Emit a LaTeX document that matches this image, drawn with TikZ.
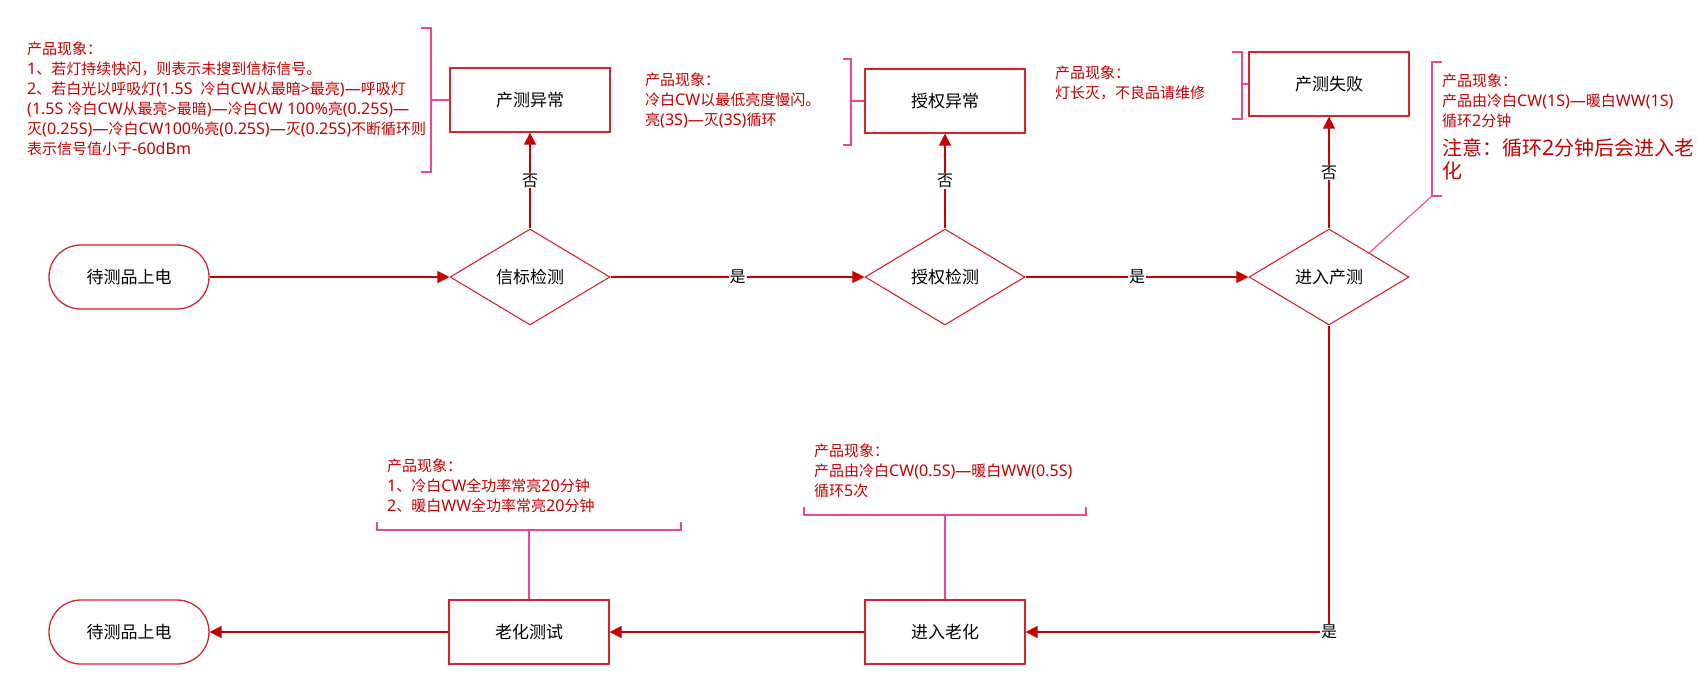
\documentclass[tikz,border=0pt]{standalone}
\usepackage{fontspec}
\setmainfont{Noto Sans CJK SC}
\newfontfamily\latfont{Noto Sans}[Scale=1.07]
\newcommand\la[1]{{\latfont #1}}
\newcommand\dd{{\latfont —}}
\usetikzlibrary{shapes.geometric,arrows.meta}
\definecolor{boxred}{RGB}{214,36,44}
\definecolor{arrred}{RGB}{200,0,0}
\definecolor{notered}{RGB}{196,0,0}
\definecolor{brpink}{RGB}{232,72,150}
\tikzset{
  proc/.style={draw=boxred, line width=1.3pt, minimum width=160pt, minimum height=64pt, inner sep=0pt, text=black, font=\fontsize{17}{20}\selectfont},
  term/.style={proc, rounded corners=31.9pt},
  dec/.style={diamond, draw=boxred, line width=1.1pt, aspect=1.667, minimum width=160pt, minimum height=96pt, inner sep=0pt, text=black, font=\fontsize{17}{20}\selectfont},
  arr/.style={draw=arrred, line width=1.2pt, -{Triangle[length=12pt,width=12pt]}},
  lab/.style={fill=white, inner sep=1pt, text=black, font=\fontsize{16}{16}\selectfont},
  note/.style={text=notered, align=left, inner sep=0pt, anchor=north west, font=\fontsize{15}{20}\selectfont},
  br/.style={draw=brpink, line width=1.1pt}
}
\begin{document}
\begin{tikzpicture}[x=1pt,y=-1pt]
\useasboundingbox (0,0) rectangle (1704,686);
% main nodes
\node[term] (t1) at (129,277) {待测品上电};
\node[dec] (d1) at (530,277) {信标检测};
\node[dec] (d2) at (945,277) {授权检测};
\node[dec] (d3) at (1329,277) {进入产测};
\node[proc] (b1) at (530,100) {产测异常};
\node[proc] (b2) at (945,101) {授权异常};
\node[proc] (b3) at (1329,84) {产测失败};
\node[proc] (b4) at (945,632) {进入老化};
\node[proc] (b5) at (529,632) {老化测试};
\node[term] (t2) at (129,632) {待测品上电};
% connectors
\draw[arr] (t1) -- (d1);
\draw[arr] (d1) -- node[lab]{是} (d2);
\draw[arr] (d2) -- node[lab]{是} (d3);
\draw[arr] (d1) -- node[lab]{否} (b1);
\draw[arr] (d2) -- node[lab]{否} (b2);
\draw[arr] (d3) -- node[lab]{否} (b3);
\draw[arr] (d3) |- node[lab,pos=0.5]{是} (b4);
\draw[arr] (b4) -- (b5);
\draw[arr] (b5) -- (t2);
% notes
\node[note] (n1) at (27,42) {产品现象：\\\la{1}、若灯持续快闪，则表示未搜到信标信号。\\\la{2}、若白光以呼吸灯\la{(1.5S\enspace}冷白\la{CW}从最暗\la{>}最亮\la{)}\dd 呼吸灯\\\la{(1.5S }冷白\la{CW}从最亮\la{>}最暗\la{)}\dd 冷白\la{CW 100\%}亮\la{(0.25S)}\dd\\灭\la{(0.25S)}\dd 冷白\la{CW100\%}亮\la{(0.25S)}\dd 灭\la{(0.25S)}不断循环则\\表示信号值小于\la{-60dBm}};
\node[note] (n2) at (645,73) {产品现象：\\冷白\la{CW}以最低亮度慢闪。\\亮\la{(3S)}\dd 灭\la{(3S)}循环};
\node[note] (n3) at (1055,66) {产品现象：\\灯长灭，不良品请维修};
\node[note] (n4) at (1442,74) {产品现象：\\产品由冷白\la{CW(1S)}\dd 暖白\la{WW(1S)}\\循环\la{2}分钟};
\node[note, font=\fontsize{20}{23}\selectfont] (n4b) at (1442,138) {注意：循环\la{2}分钟后会进入老\\化};
\node[note] (n5) at (387,459) {产品现象：\\\la{1}、冷白\la{CW}全功率常亮\la{20}分钟\\\la{2}、暖白\la{WW}全功率常亮\la{20}分钟};
\node[note] (n6) at (814,444) {产品现象：\\产品由冷白\la{CW(0.5S)}\dd 暖白\la{WW(0.5S)}\\循环\la{5}次};
% brackets
\coordinate (k1) at (431,100);
\coordinate (k2) at (851,101);
\coordinate (k3) at (1242,84);
\coordinate (k4) at (1432,196);
\coordinate (k5) at (529,530);
\coordinate (k6) at (945,515);
\draw[br] (421,28) -- (431,28) -- (431,172) -- (421,172);
\draw[br] (k1) -- (b1.west);
\draw[br] (843,59) -- (851,59) -- (851,145) -- (843,145);
\draw[br] (k2) -- (b2.west);
\draw[br] (1232,52) -- (1242,52) -- (1242,119) -- (1232,119);
\draw[br] (k3) -- (b3.west);
\draw[br] (1442,62) -- (1432,62) -- (1432,196) -- (1442,196);
\draw[br] (k4) -- (d3.north east);
\draw[br] (377,522) -- (377,530) -- (681,530) -- (681,522);
\draw[br] (k5) -- (b5.north);
\draw[br] (804,507) -- (804,515) -- (1086,515) -- (1086,507);
\draw[br] (k6) -- (b4.north);
\end{tikzpicture}
\end{document}
